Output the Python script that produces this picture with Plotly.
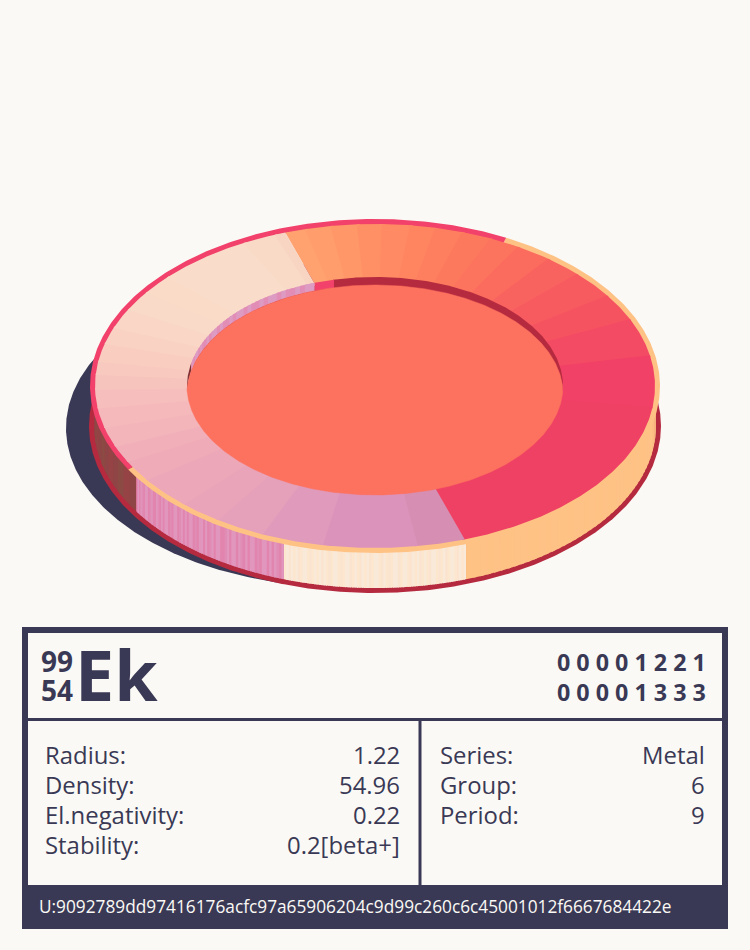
import numpy as np
import plotly.graph_objects as go

# ---------- data ----------
# ring sectors: boundaries in degrees, running clockwise
WEDGE_EDGES = [108.7, 104.5, 99.2, 93.7, 88.6, 82.8, 77.6, 71.9, 65.7, 59.3, 51.8, 43.9, 34, 24.4,
               10.9, -7.4, -71.3, -81.2, -100.7, -113.6, -124, -133, -144.5, -152, -158, -165, -172,
               -178.6, -183.9, -188.5, -195, -201, -208, -215, -222, -242, -249, -251.3]
WEDGE_COLORS = ["#ffa270", "#ff9d6c", "#ff9768", "#ff9066", "#ff8a63", "#ff8560", "#fe7f5f", "#fd795e",
                "#fc735e", "#fb6b5e", "#f9635f", "#f75b60", "#f65361", "#f44b64", "#f24167", "#ef4164",
                "#d68fb2", "#dc93bb", "#e09abb", "#e5a0ba", "#e9a4b9", "#eca8b8", "#efacb8", "#f1b0b9",
                "#f3b5ba", "#f5b9bb", "#f6bebc", "#f7c3bd", "#f8c9bf", "#f9cec0", "#f9d2c3", "#f9d6c5",
                "#f9d9c7", "#f9dbc8", "#f9dcc9", "#f9dac6", "#f8d5c2"]
RIM_EDGES = [62.6, -150, -297.4]
RIM_COLORS = ["#ffc285", "#f2416a"]
WALL_EDGES = [-180, -148.2, -108.9, -71.1, 0]
PINK_WALL = "0101201102100120101102011021010110201101021011002101101201011020110101201"
CREAM_WALL = "01210120110201012102011020112010210120110210201120110210120102110201201102101"
ORANGE_WALL = "0010100110010100011010010011001010001101001001"
DARK_WALL = "012012101201"
HOLE_EDGES = [180, 168, 108.7, 102.9, 0]
HOLE_PINK = "0101101001011010010110100101101001011"

NAME = "Ek"
MASS = "99"
NUMBER = "54"
SHELLS_TOP = "0 0 0 0 1 2 2 1"
SHELLS_BOTTOM = "0 0 0 0 1 3 3 3"
LEFT_LABELS = ["Radius:", "Density:", "El.negativity:", "Stability:"]
LEFT_VALUES = ["1.22", "54.96", "0.22", "0.2[beta+]"]
RIGHT_LABELS = ["Series:", "Group:", "Period:"]
RIGHT_VALUES = ["Metal", "6", "9"]
UID = "U:9092789dd97416176acfc97a65906204c9d99c260c6c45001012f6667684422e"

# ---------- style / geometry ----------
BG = "#faf9f5"
NAVY = "#3a3955"
DARK_RED = "#b52a3f"
RED = "#f2416a"
DISC = "#fd715f"
PINK_TONES = ["#e285ae", "#e196bd", "#e08cb4"]
CREAM_TONES = ["#fde6ce", "#f9e9d9", "#fae4d0"]
ORANGE_TONES = ["#ffc285", "#fec186"]
DARK_TONES = ["#964345", "#8f4445", "#8c4a44"]
HOLE_TONES = ["#e18db5", "#dd9ac2"]
CX, CY = 375, 386
RX_RIM, RY_RIM = 285, 167
RX_TOP, RY_TOP = 280, 162
RX_HOLE, RY_HOLE = 188, 109
WALL_DY = 40
RX_BASE_IN, RY_BASE_IN = 281, 162
RX_BASE, RY_BASE = 286, 167
DISC_DY = 8


def arc(rx, ry, cy, t0, t1, cx=CX):
    n = max(2, int(abs(t1 - t0) * 2) + 1)
    t = np.radians(np.linspace(t0, t1, n))
    return cx + rx * np.cos(t), cy - ry * np.sin(t)


fig = go.Figure()


def add_poly(x, y, color, width=0):
    fig.add_trace(go.Scatter(x=list(x), y=list(y), mode="lines", fill="toself", fillcolor=color,
                             line=dict(color=color, width=width), hoverinfo="skip", showlegend=False))


def ellipse(rx, ry, cy, color, cx=CX):
    x, y = arc(rx, ry, cy, 0, 360, cx)
    add_poly(x, y, color)


def sector(rx0, ry0, cy0, rx1, ry1, cy1, t0, t1, color):
    xa, ya = arc(rx0, ry0, cy0, t0, t1)
    xb, yb = arc(rx1, ry1, cy1, t1, t0)
    add_poly(np.r_[xa, xb], np.r_[ya, yb], color)


def stripes(t0, t1, pattern, tones, rx, ry_top, cy_top, ry_bot, cy_bot):
    """vertical strips following an arc, one per tone character; each overlaps the next"""
    edges = np.linspace(t0, t1, len(pattern) + 1)
    step = edges[1] - edges[0]
    for i, ch in enumerate(pattern):
        a = edges[i]
        b = edges[i + 1] + (step * 0.5 if i < len(pattern) - 1 else 0)
        xa, ya = arc(rx, ry_top, cy_top, a, b)
        xb, yb = arc(rx, ry_bot, cy_bot, b, a)
        add_poly(np.r_[xa, xb], np.r_[ya, yb], tones[int(ch)])


# shadow
ellipse(285, 160, 428, NAVY, cx=351)
# base
ellipse(RX_BASE, RY_BASE, CY + WALL_DY, DARK_RED)
# outer wall
wb = CY + WALL_DY
for t0, t1, pat, tones in zip(WALL_EDGES[:-1], WALL_EDGES[1:],
                              [DARK_WALL, PINK_WALL, CREAM_WALL, ORANGE_WALL],
                              [DARK_TONES, PINK_TONES, CREAM_TONES, ORANGE_TONES]):
    stripes(t0, t1, pat, tones, RX_BASE_IN, RY_TOP, CY, RY_BASE_IN, wb)
# rim
for t0, t1, c in zip(RIM_EDGES[:-1], RIM_EDGES[1:], RIM_COLORS):
    sector(RX_RIM, RY_RIM, CY, RX_TOP - 1, RY_TOP - 1, CY, t0, t1, c)
# ring top (each sector runs slightly under the next; inner edge runs under the disc)
n_wedges = len(WEDGE_COLORS)
for i, c in enumerate(WEDGE_COLORS):
    t0, t1 = WEDGE_EDGES[i], WEDGE_EDGES[i + 1]
    sector(RX_TOP, RY_TOP, CY, RX_HOLE - 3, RY_HOLE - 3, CY, t0, t1 - (0.6 if i < n_wedges - 1 else 0), c)
# hole wall (upper side only)
sector(RX_HOLE, RY_HOLE, CY, RX_HOLE, RY_HOLE, CY + DISC_DY, HOLE_EDGES[0], HOLE_EDGES[1] - 0.5, "#7f3035")
stripes(HOLE_EDGES[1], HOLE_EDGES[2], HOLE_PINK, HOLE_TONES, RX_HOLE, RY_HOLE, CY, RY_HOLE, CY + DISC_DY)
sector(RX_HOLE, RY_HOLE, CY, RX_HOLE, RY_HOLE, CY + DISC_DY, HOLE_EDGES[3], HOLE_EDGES[4], DARK_RED)
sector(RX_HOLE, RY_HOLE, CY, RX_HOLE, RY_HOLE, CY + DISC_DY, HOLE_EDGES[2], HOLE_EDGES[3] - 0.3, RED)
# disc: upper half lowered, lower half on the hole edge
mid = CY + DISC_DY / 2
xu, yu = arc(RX_HOLE, RY_HOLE, CY + DISC_DY, 180, 0)
xl, yl = arc(RX_HOLE, RY_HOLE, CY, 0, -180)
add_poly(np.r_[xu, xl], np.r_[np.minimum(yu, mid), np.maximum(yl, mid)], DISC, 0.5)

# ---------- panel ----------
shapes = []


def rect(x0, y0, x1, y1, color):
    shapes.append(dict(type="rect", xref="x", yref="y", x0=x0, y0=y0, x1=x1, y1=y1,
                       fillcolor=color, line=dict(width=0), layer="above"))


rect(22, 627, 728, 633, NAVY)
rect(22, 627, 28, 929, NAVY)
rect(722, 627, 728, 929, NAVY)
rect(22, 885, 728, 929, NAVY)
rect(28, 718, 722, 721, NAVY)
rect(418.5, 721, 421.5, 885, NAVY)

ann = []


def text(x, y, s, size, anchor="left", weight=400, color=NAVY):
    ann.append(dict(x=x, y=y, text=s, xref="x", yref="y", showarrow=False, xanchor=anchor, yanchor="middle",
                    borderpad=0, borderwidth=0,
                    font=dict(family="Open Sans", size=size, color=color, weight=weight)))


text(41, 661, MASS, 28, weight=700)
text(41, 690, NUMBER, 28, weight=700)
text(75, 674, NAME, 70, weight=700)
text(705.5, 662, SHELLS_TOP, 23.3, "right", 700)
text(705.5, 692, SHELLS_BOTTOM, 23.3, "right", 700)
for i, (a, b) in enumerate(zip(LEFT_LABELS, LEFT_VALUES)):
    y = 754 + 30 * i
    text(45, y, a, 23.9)
    text(400, y, b, 23.9, "right")
for i, (a, b) in enumerate(zip(RIGHT_LABELS, RIGHT_VALUES)):
    y = 754 + 30 * i
    text(440, y, a, 23.9)
    text(705, y, b, 23.9, "right")
text(39, 906.5, UID, 17.28, color=BG)

fig.update_layout(width=750, height=950, margin=dict(l=0, r=0, t=0, b=0), autosize=False,
                  paper_bgcolor=BG, plot_bgcolor=BG, showlegend=False,
                  xaxis=dict(range=[0, 750], visible=False, fixedrange=True),
                  yaxis=dict(range=[950, 0], visible=False, fixedrange=True),
                  shapes=shapes, annotations=ann)
fig.write_html("out.html", config=dict(displayModeBar=False),
               post_script="document.body.style.margin='0';document.body.style.background='%s';" % BG)
